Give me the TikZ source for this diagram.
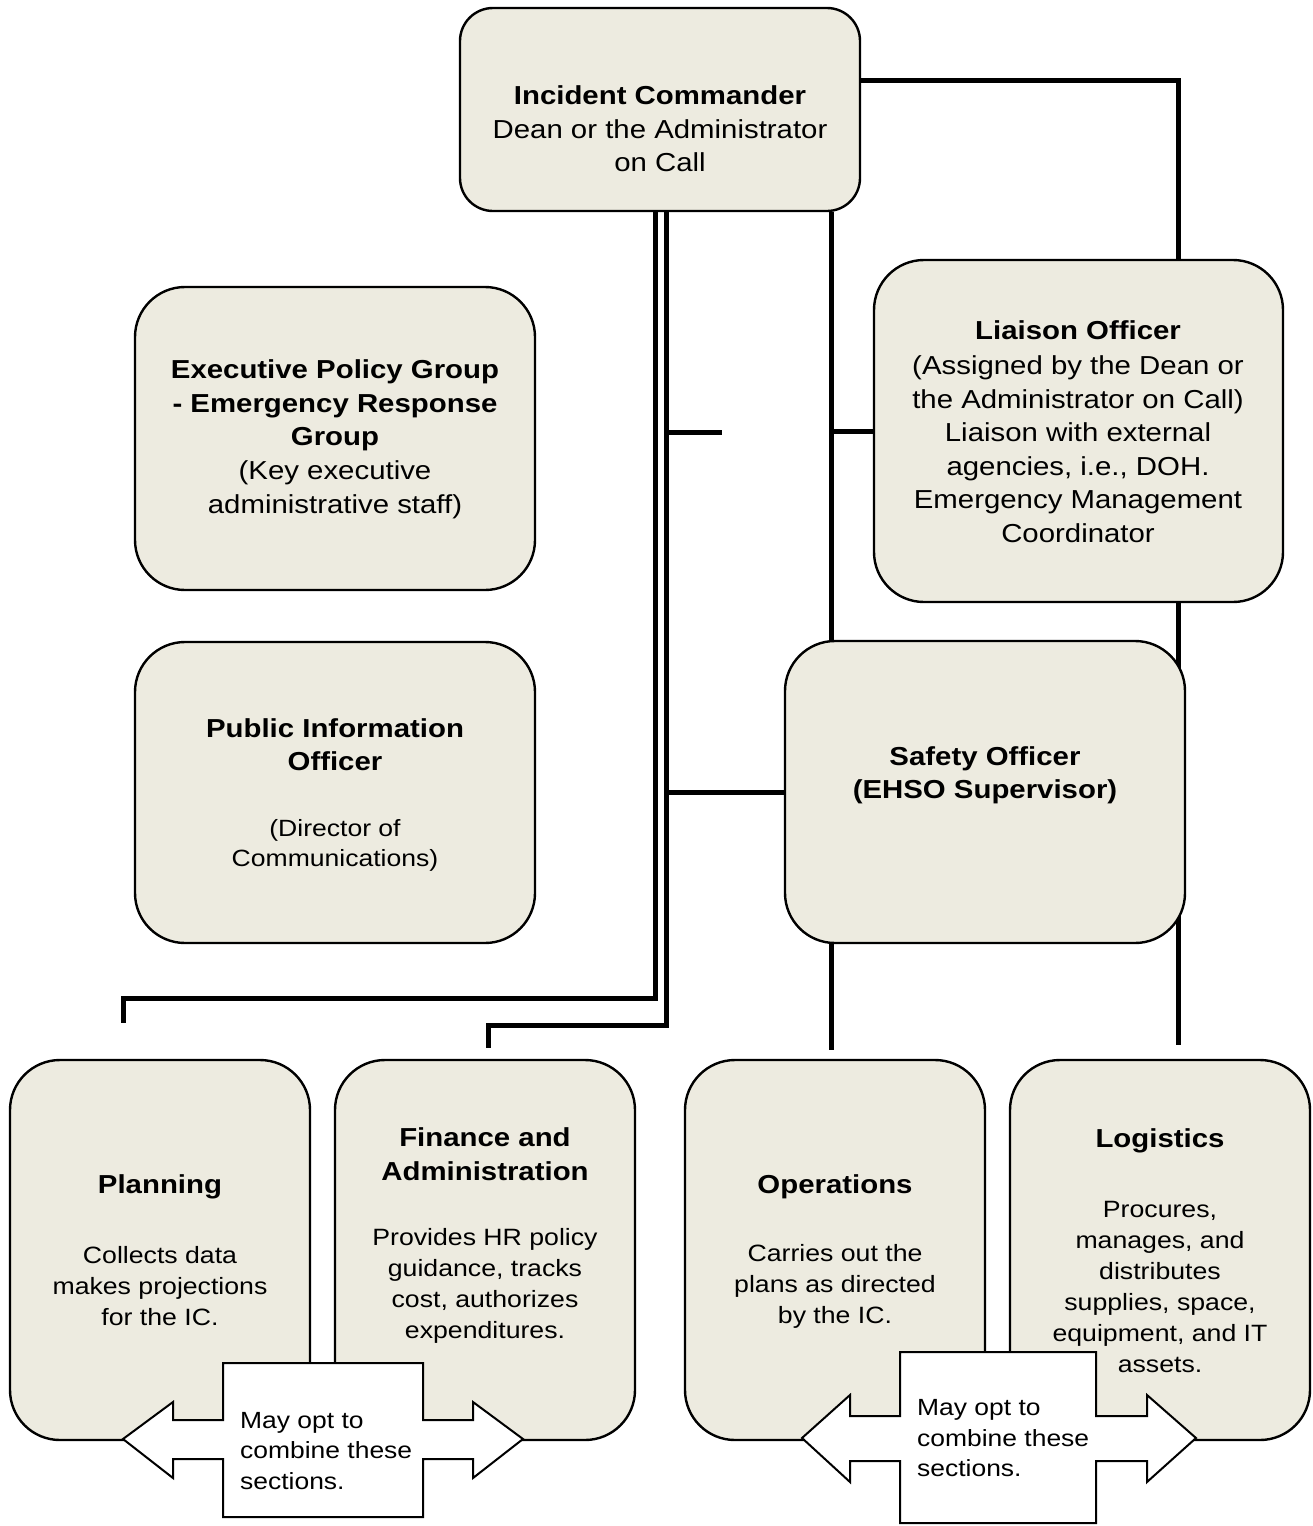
\documentclass[tikz,border=0pt]{standalone}
\usepackage{fontspec}
\setmainfont[FakeStretch=1.13]{Liberation Sans}
\usetikzlibrary{backgrounds}
\definecolor{boxfill}{RGB}{237,235,224}
\begin{document}
\begin{tikzpicture}[x=1pt,y=-1pt,
  box/.style={draw=black,line width=2.4pt,fill=boxfill,rounded corners=#1,inner sep=0pt},
  box/.default=50pt,
  conn/.style={draw=black,line width=5pt},
  hd/.style={font=\fontsize{26}{33.5}\selectfont\bfseries,align=center,inner sep=0pt},
  bd/.style={font=\fontsize{26}{33.5}\selectfont,align=center,inner sep=0pt},
  sm/.style={font=\fontsize{23.6}{31}\selectfont,align=center,inner sep=0pt},
  pio/.style={font=\fontsize{23.5}{30.5}\selectfont,align=center,inner sep=0pt},
  call/.style={draw=black,line width=2pt,fill=white},
  calltxt/.style={font=\fontsize{23.4}{30.5}\selectfont,align=left,anchor=north west,inner sep=0pt}
]
\useasboundingbox (0,0) rectangle (1312,1526);
% boxes
\node[box=33pt,minimum width=400pt,minimum height=203pt] (ic) at (660,109.5) {};
\node[box,minimum width=400pt,minimum height=303pt] (exec) at (335,438.5) {};
\node[box,minimum width=400pt,minimum height=301pt] (pio) at (335,792.5) {};
\node[box,minimum width=409pt,minimum height=342pt] (liaison) at (1078.5,431) {};
\node[box,minimum width=400pt,minimum height=302pt] (safety) at (985,792) {};
\node[box,minimum width=300pt,minimum height=380pt] (plan) at (160,1250) {};
\node[box,minimum width=300pt,minimum height=380pt] (fin) at (485,1250) {};
\node[box,minimum width=300pt,minimum height=380pt] (ops) at (835,1250) {};
\node[box,minimum width=300pt,minimum height=380pt] (log) at (1160,1250) {};
% connectors
\begin{scope}[on background layer]
\coordinate (icr) at (860,80);
\coordinate (lx) at (1178,0);
\draw[conn] (icr) -| (lx |- liaison.north);
\coordinate (ldown) at (1178,1045);
\draw[conn] (lx |- liaison.south) -- (ldown);
\coordinate (sx) at (831,0);
\draw[conn] (sx |- ic.south) -- (sx |- safety.north);
\draw[conn] (sx |- liaison.west) -- (liaison.west);
\coordinate (sdown) at (831,1050);
\draw[conn] (sx |- safety.south) -- (sdown);
\coordinate (p1) at (655,998);
\coordinate (plend) at (123,1023);
\draw[conn] ([xshift=-5pt]ic.south) -- (p1) -| (plend);
\coordinate (p2) at (666,1025);
\coordinate (fend) at (488,1048);
\draw[conn] ([xshift=6pt]ic.south) -- (p2) -| (fend);
\coordinate (stub) at (722,432);
\draw[conn] (p2 |- stub) -- (stub);
\draw[conn] (p2 |- safety.west) -- (safety.west);
\end{scope}
% texts
\node[hd] (ict1) at (660,95) {Incident Commander};
\node[bd] (ict2) at (660,145.5) {Dean or the Administrator\\on Call};
\node[hd] (ext1) at (335,405.5) {Executive Policy Group\\- Emergency Response\\Group};
\node[bd] (ext2) at (335,490) {(Key executive\\administrative staff)};
\node[hd] (piot1) at (335,744.5) {Public Information\\Officer};
\node[pio] (piot2) at (335,845.5) {(Director of\\Communications)};
\node[hd] (lt1) at (1078,330) {Liaison Officer};
\node[bd] (lt2) at (1078,449) {(Assigned by the Dean or\\the Administrator on Call)\\Liaison with external\\agencies, i.e., DOH.\\Emergency Management\\Coordinator};
\node[hd] (st) at (985,775.5) {Safety Officer\\(EHSO Supervisor)};
\node[hd] (plt1) at (160,1187) {Planning};
\node[sm] (plt2) at (160,1286.5) {Collects data\\makes projections\\for the IC.};
\node[hd] (ft1) at (485,1154) {Finance and\\Administration};
\node[sm] (ft2) at (485,1285.5) {Provides HR policy\\guidance, tracks\\cost, authorizes\\expenditures.};
\node[hd] (ot1) at (835,1187) {Operations};
\node[sm] (ot2) at (835,1286.5) {Carries out the\\plans as directed\\by the IC.};
\node[hd] (lgt1) at (1160,1141) {Logistics};
\node[sm] (lgt2) at (1160,1287) {Procures,\\manages, and\\distributes\\supplies, space,\\equipment, and IT\\assets.};
% callouts
\draw[call] (223,1363) -- (423,1363) -- (423,1420) -- (473,1420) -- (473,1402) -- (523,1439)
  -- (473,1478) -- (473,1459) -- (423,1459) -- (423,1517) -- (223,1517) -- (223,1459)
  -- (173,1459) -- (173,1478) -- (123,1439) -- (173,1402) -- (173,1420) -- (223,1420) -- cycle;
\node[calltxt] (c1) at (240,1412) {May opt to\\combine these\\sections.};
\draw[call] (900,1352) -- (1096,1352) -- (1096,1416) -- (1147,1416) -- (1147,1395) -- (1196,1438)
  -- (1147,1482) -- (1147,1461) -- (1096,1461) -- (1096,1523) -- (900,1523) -- (900,1461)
  -- (850,1461) -- (850,1482) -- (802,1438) -- (850,1395) -- (850,1416) -- (900,1416) -- cycle;
\node[calltxt] (c2) at (917,1399.5) {May opt to\\combine these\\sections.};
\end{tikzpicture}
\end{document}
